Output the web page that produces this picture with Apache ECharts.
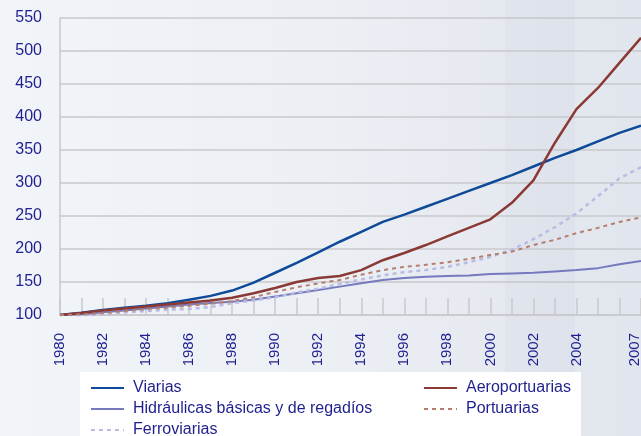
<!DOCTYPE html>
<html>
<head>
<meta charset="utf-8">
<script src="https://cdn.jsdelivr.net/npm/echarts@6/dist/echarts.min.js"></script>
<style>
  html, body { margin: 0; padding: 0; }
  #chart { width: 641px; height: 436px; }
</style>
</head>
<body>
<div id="chart"></div>
<script>
const years = ['1980', '1981', '1982', '1983', '1984', '1985', '1986', '1987', '1988', '1989',
  '1990', '1991', '1992', '1993', '1994', '1995', '1996', '1997', '1998', '1999',
  '2000', '2001', '2002', '2003', '2004', '2005', '2006', '2007']

const viarias = [100, 103.5, 107.5, 111, 114, 118, 123, 129, 137, 149, 164, 179, 195, 211, 226,
  241, 252, 264, 276, 288, 300, 312, 325, 338, 350, 363, 376, 387]
const aeroportuarias = [100, 103, 107, 110, 113, 116, 119, 122, 126, 133, 141, 150, 156, 159, 168,
  183, 194, 206, 219, 232, 245, 270, 304, 361, 412, 444, 482, 520]
const hidraulicas = [100, 101, 104, 107, 110, 113, 116, 118, 120, 123, 128, 133, 138, 143, 148,
  153, 156, 158, 159, 160, 162, 163, 164, 166, 168, 171, 177, 182]
const portuarias = [100, 101, 103, 106, 109, 111, 114, 117, 121, 127, 135, 142, 148, 153, 161,
  168, 173, 176, 180, 185, 191, 196, 206, 214, 224, 232, 241, 248]
const ferroviarias = [100, 99, 101, 104, 106, 108, 109, 112, 118, 122, 127, 134, 140, 147, 154,
  160, 165, 168, 173, 180, 188, 199, 215, 233, 254, 280, 307, 324]

const textColor = '#1f1f8f'
const gridColor = '#c9c9cc'

// which years get a label on the axis
function showYear(idx) {
  return (idx % 2 === 0 && idx <= 24) || idx === years.length - 1
}

function lineSeries(name, data, color, width, dashed) {
  return {
    name: name,
    type: 'line',
    data: data,
    symbol: 'none',
    lineStyle: {
      color: color,
      width: width,
      type: dashed ? [4, 4] : 'solid'
    },
    itemStyle: { color: color }
  }
}

// one legend row per entry so nothing wraps
function legendItem(name, left, top) {
  return {
    left: left,
    top: top,
    padding: 0,
    itemWidth: 33,
    itemHeight: 14,
    itemStyle: { opacity: 0 },
    data: [name],
    textStyle: {
      color: textColor,
      fontSize: 16,
      fontFamily: 'Liberation Sans',
      padding: [0, 0, 0, 4]
    }
  }
}

const chart = echarts.init(document.getElementById('chart'))

chart.setOption({
  animation: false,
  backgroundColor: {
    type: 'linear', x: 0, y: 0, x2: 1, y2: 0,
    colorStops: [
      { offset: 0, color: '#f1f4f8' },
      { offset: 0.5, color: '#eceff4' },
      { offset: 1, color: '#e1e5ed' }
    ]
  },
  graphic: [
    {
      type: 'rect', z: -10, silent: true,
      shape: { x: 505, y: 0, width: 70, height: 436 },
      style: { fill: 'rgba(170,176,205,0.08)' }
    },
    {
      type: 'rect', z: -10, silent: true,
      shape: { x: 80, y: 372, width: 501, height: 64 },
      style: { fill: '#ffffff' }
    }
  ],
  grid: { left: 60, right: 0, top: 18, bottom: 121, outerBoundsMode: 'none' },
  legend: [
    legendItem('Viarias', 90, 380),
    legendItem('Hidráulicas básicas y de regadíos', 90, 401),
    legendItem('Ferroviarias', 90, 422),
    legendItem('Aeroportuarias', 423, 380),
    legendItem('Portuarias', 423, 401)
  ],
  xAxis: {
    type: 'category',
    data: years,
    boundaryGap: false,
    axisLine: { lineStyle: { color: gridColor, width: 1.5 } },
    axisTick: {
      inside: true,
      length: 17,
      interval: 0,
      lineStyle: { color: gridColor, width: 1.5 }
    },
    axisLabel: {
      interval: showYear,
      rotate: 90,
      margin: 18,
      color: textColor,
      fontSize: 15,
      fontFamily: 'Liberation Sans',
      formatter: function (v, idx) {
        return idx === years.length - 1 ? '{last|' + v + '}' : v
      },
      rich: {
        last: {
          color: textColor,
          fontSize: 15,
          fontFamily: 'Liberation Sans',
          padding: [0, 0, 12, 0]
        }
      }
    },
    splitLine: { show: false }
  },
  yAxis: {
    type: 'value',
    min: 100,
    max: 550,
    interval: 50,
    axisLine: { show: true, lineStyle: { color: gridColor, width: 1.5 } },
    axisTick: { show: false },
    axisLabel: {
      margin: 18,
      color: textColor,
      fontSize: 16,
      fontFamily: 'Liberation Sans'
    },
    splitLine: { lineStyle: { color: gridColor, width: 1.5 } }
  },
  series: [
    lineSeries('Viarias', viarias, '#0e4a97', 2.5, false),
    lineSeries('Hidráulicas básicas y de regadíos', hidraulicas, '#7679bd', 2, false),
    lineSeries('Ferroviarias', ferroviarias, '#b9bce2', 2.5, true),
    lineSeries('Aeroportuarias', aeroportuarias, '#8a3934', 2.5, false),
    lineSeries('Portuarias', portuarias, '#b57e6c', 2, true)
  ]
})
</script>
</body>
</html>
